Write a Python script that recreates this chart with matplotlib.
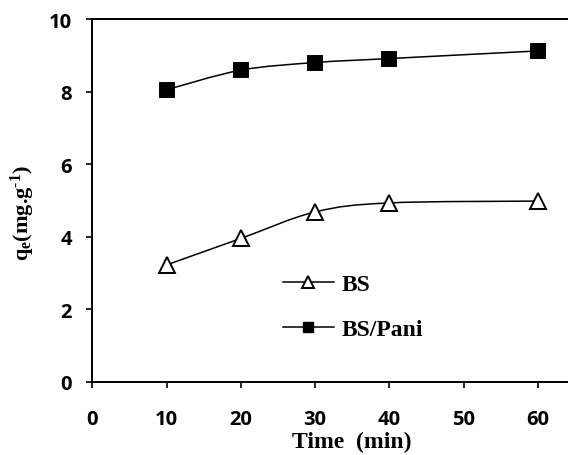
import matplotlib
matplotlib.use("Agg")
import matplotlib.pyplot as plt
from matplotlib.path import Path
from matplotlib.patches import PathPatch
from matplotlib.lines import Line2D

# data
time_min = [10, 20, 30, 40, 60]
qe_bs = [3.22, 3.95, 4.68, 4.93, 4.98]
qe_bs_pani = [8.05, 8.59, 8.80, 8.91, 9.12]

x_ticks = [0, 10, 20, 30, 40, 50, 60]
y_ticks = [0, 2, 4, 6, 8, 10]

plt.rcParams['mathtext.fontset'] = 'custom'
plt.rcParams['mathtext.rm'] = 'Liberation Serif:bold'
plt.rcParams['mathtext.it'] = 'Liberation Serif:bold'
plt.rcParams['mathtext.bf'] = 'Liberation Serif:bold'


def smooth_path(xs, ys):
    # excel-like smoothed line: catmull-rom turned into cubic beziers
    pts = list(zip(xs, ys))
    verts = [pts[0]]
    codes = [Path.MOVETO]
    n = len(pts)
    for i in range(n - 1):
        p0 = pts[i - 1] if i > 0 else pts[i]
        p1 = pts[i]
        p2 = pts[i + 1]
        p3 = pts[i + 2] if i + 2 < n else pts[i + 1]
        c1 = (p1[0] + (p2[0] - p0[0]) / 6, p1[1] + (p2[1] - p0[1]) / 6)
        c2 = (p2[0] - (p3[0] - p1[0]) / 6, p2[1] - (p3[1] - p1[1]) / 6)
        verts += [c1, c2, p2]
        codes += [Path.CURVE4] * 3
    return Path(verts, codes)


fig = plt.figure(figsize=(5.68, 4.56), dpi=100)
ax = fig.add_axes([0.1625, 0.1607, 0.915, 0.7954])

for ys, mk, face in [(qe_bs, '^', 'white'), (qe_bs_pani, 's', 'black')]:
    ax.add_patch(PathPatch(smooth_path(time_min, ys), fill=False,
                           edgecolor='black', lw=1.1, zorder=2))
    ax.plot(time_min, ys, linestyle='none', marker=mk, markersize=11 if mk == '^' else 10,
            markerfacecolor=face, markeredgecolor='black', markeredgewidth=1.4, zorder=3)

ax.set_xlim(0, 70)
ax.set_ylim(0, 10)
ax.set_xticks(x_ticks)
ax.set_yticks(y_ticks)

for s in ax.spines.values():
    s.set_linewidth(1.4)

ax.tick_params(axis='both', direction='out', length=4.5, width=1.2)
ax.tick_params(axis='x', pad=15)
ax.tick_params(axis='y', pad=10)
for lab in ax.get_xticklabels() + ax.get_yticklabels():
    lab.set_fontfamily('Open Sans')
    lab.set_fontweight('bold')
    lab.set_fontsize(14.5)

ax.set_xlabel('Time  (min)', fontfamily='Liberation Serif', fontweight='bold', fontsize=17)
ax.xaxis.set_label_coords(0.5, -0.135)
ax.set_ylabel('q$_{\\rm e}$(mg.g$^{\\rm \u20101}$)', fontfamily='Liberation Serif',
              fontweight='bold', fontsize=16)
ax.yaxis.set_label_coords(-0.106, 0.468)

handles = [
    Line2D([], [], color='black', lw=1.1, marker='^', markersize=8,
           markerfacecolor='white', markeredgecolor='black', markeredgewidth=1.4),
    Line2D([], [], color='black', lw=1.1, marker='s', markersize=7,
           markerfacecolor='black', markeredgecolor='black'),
]
ax.legend(handles, ['BS', 'BS/Pani'], loc='center left', bbox_to_anchor=(0.366, 0.207),
          frameon=False, borderpad=0, borderaxespad=0, handlelength=2.2,
          handletextpad=0.3, labelspacing=1.0,
          prop={'family': 'Liberation Serif', 'weight': 'bold', 'size': 17})

fig.savefig('out.png', dpi=100)
